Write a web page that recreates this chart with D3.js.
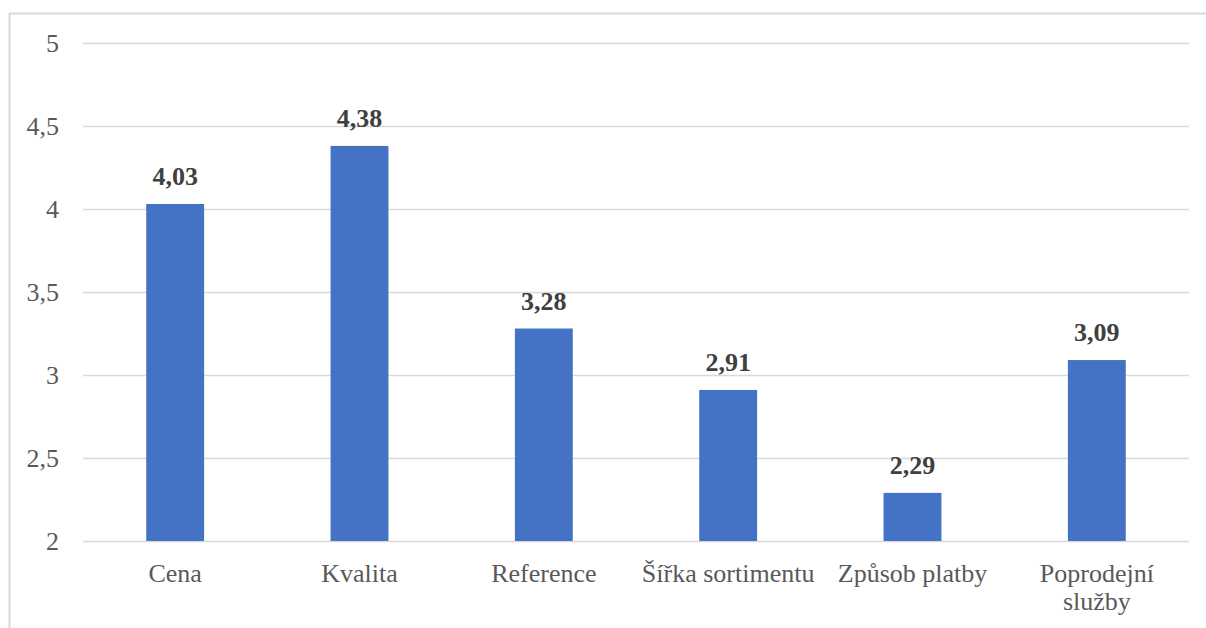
<!DOCTYPE html>
<html lang="cs">
<head>
<meta charset="UTF-8">
<script src="https://d3js.org/d3.v7.min.js"></script>
<style>
  body { margin: 0; background: #fff; }
  text { font-family: "Liberation Serif", "Times New Roman", serif; }
</style>
</head>
<body>
<div id="chart"></div>
<script>
var categories = ["Cena", "Kvalita", "Reference", "Šířka sortimentu", "Způsob platby", "Poprodejní služby"];
var values = [4.03, 4.38, 3.28, 2.91, 2.29, 3.09];
var yTicks = [2, 2.5, 3, 3.5, 4, 4.5, 5];

var W = 1206, H = 628;
var margin = { top: 43, right: 17, bottom: 87, left: 83 };
var width = W - margin.left - margin.right,
    height = H - margin.top - margin.bottom;

var svg = d3.select("#chart").append("svg")
    .attr("width", W)
    .attr("height", H);

// chart area border (only top and left visible in the crop)
svg.append("rect")
    .attr("x", 9.5).attr("y", 13.5)
    .attr("width", 1400).attr("height", 800)
    .attr("fill", "none")
    .attr("stroke", "#d9d9d9")
    .attr("stroke-width", 2);

var g = svg.append("g")
    .attr("transform", "translate(" + margin.left + "," + margin.top + ")");

var x = d3.scaleBand()
    .domain(categories)
    .range([0, width])
    .paddingInner(0.686)
    .paddingOuter(0.343);

var y = d3.scaleLinear()
    .domain([2, 5])
    .range([height, 0]);

var fmt = function (d) { return String(d).replace(".", ","); };

// gridlines
g.append("g")
    .selectAll("line")
    .data(yTicks)
    .join("line")
    .attr("x1", 0).attr("x2", width)
    .attr("y1", function (d) { return Math.round(y(d)) + 0.5; })
    .attr("y2", function (d) { return Math.round(y(d)) + 0.5; })
    .attr("stroke", "#d9d9d9")
    .attr("stroke-width", 1.5);

// y axis labels
var yAxis = g.append("g")
    .call(d3.axisLeft(y).tickValues(yTicks).tickFormat(fmt).tickSize(0).tickPadding(24));
yAxis.select(".domain").remove();
yAxis.selectAll("text")
    .attr("fill", "#595959")
    .style("font-size", "26px")
    .style("font-family", "'Liberation Serif', 'Times New Roman', serif");

// bars
g.selectAll(".bar")
    .data(values)
    .join("rect")
    .attr("class", "bar")
    .attr("x", function (d, i) { return x(categories[i]); })
    .attr("width", x.bandwidth())
    .attr("y", function (d) { return y(d); })
    .attr("height", function (d) { return height - y(d); })
    .attr("fill", "#4472c4");

// value labels
g.selectAll(".val")
    .data(values)
    .join("text")
    .attr("class", "val")
    .attr("x", function (d, i) { return x(categories[i]) + x.bandwidth() / 2; })
    .attr("y", function (d) { return y(d) - 19; })
    .attr("text-anchor", "middle")
    .attr("fill", "#404040")
    .style("font-size", "26px")
    .style("font-weight", "bold")
    .text(function (d) { return d.toFixed(2).replace(".", ","); });

// category labels, wrapped when too wide
var xAxis = g.append("g")
    .attr("transform", "translate(0," + height + ")");
categories.forEach(function (c) {
    var lines = c === "Poprodejní služby" ? ["Poprodejní", "služby"] : [c];
    var t = xAxis.append("text")
        .attr("x", x(c) + x.bandwidth() / 2)
        .attr("y", 41)
        .attr("text-anchor", "middle")
        .attr("fill", "#595959")
        .style("font-size", "26px");
    lines.forEach(function (l, i) {
        t.append("tspan")
            .attr("x", x(c) + x.bandwidth() / 2)
            .attr("dy", i === 0 ? 0 : 28)
            .text(l);
    });
});
</script>
</body>
</html>
